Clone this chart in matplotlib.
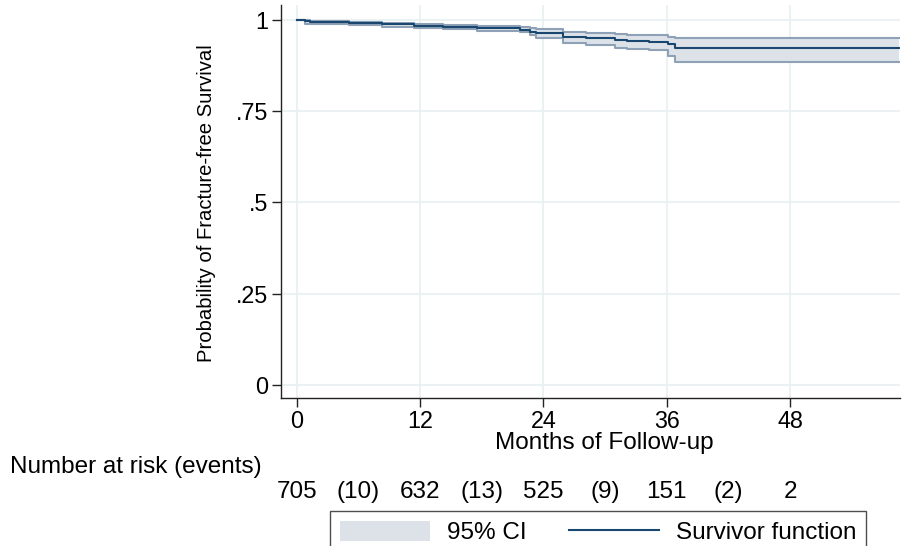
import matplotlib
matplotlib.use("Agg")
import matplotlib.pyplot as plt
import matplotlib.transforms as mtransforms
from matplotlib.patches import Patch
from matplotlib.lines import Line2D
import numpy as np

# Kaplan-Meier step estimates (months, survival, 95% CI bounds)
months = [0, 0.8, 1.3, 5.1, 8.3, 11.4, 14.2, 17.5, 21.7, 22.7, 23.3, 25.9,
          28.2, 31.0, 32.1, 34.3, 36.1, 36.8]
survival = [1.0, 0.996, 0.995, 0.991, 0.988, 0.984, 0.980, 0.977, 0.973,
            0.968, 0.964, 0.953, 0.950, 0.945, 0.942, 0.940, 0.934, 0.923]
ci_upper = [1.0, 0.999, 0.998, 0.995, 0.993, 0.989, 0.986, 0.983, 0.980,
            0.978, 0.976, 0.967, 0.964, 0.962, 0.960, 0.958, 0.953, 0.950]
ci_lower = [1.0, 0.990, 0.988, 0.985, 0.982, 0.978, 0.974, 0.971, 0.966,
            0.958, 0.951, 0.938, 0.932, 0.924, 0.920, 0.918, 0.901, 0.886]
last_followup = 58.6

x_ticks = [0, 12, 24, 36, 48]
y_ticks = [0, 0.25, 0.5, 0.75, 1]
y_tick_labels = ["0", ".25", ".5", ".75", "1"]

risk_positions = [0, 6, 12, 18, 24, 30, 36, 42, 48]
risk_labels = ["705", "(10)", "632", "(13)", "525", "(9)", "151", "(2)", "2"]

NAVY = "#1a476f"
CI_FILL = "#dde2e9"
CI_EDGE = "#8fa1b6"
GRID = "#e8f0f2"
INK = "#222222"

plt.rcParams["font.family"] = ["Liberation Sans", "DejaVu Sans"]
FS = 17.5       # horizontal texts
FS_TICK = 16.8  # tick labels
FS_YLAB = 14.6  # vertical axis title

W, H = 902, 546
fig = plt.figure(figsize=(W / 100, H / 100), dpi=100)
ax = fig.add_axes([281 / W, 1 - 398 / H, (900 - 281) / W, (398 - 5) / H])

t = np.array(months + [last_followup])
s = np.array(survival + [survival[-1]])
lo = np.array(ci_lower + [ci_lower[-1]])
hi = np.array(ci_upper + [ci_upper[-1]])

ax.fill_between(t, lo, hi, step="post", color=CI_FILL, lw=0, zorder=2)
ax.step(t, lo, where="post", color=CI_EDGE, lw=1.5, zorder=3)
ax.step(t, hi, where="post", color=CI_EDGE, lw=1.5, zorder=3)
ax.step(t, s, where="post", color=NAVY, lw=1.5, zorder=4)

ax.set_xlim(-1.52, 58.7)
ax.set_ylim(-0.0356, 1.041)
ax.set_xticks(x_ticks)
ax.set_yticks(y_ticks)
ax.set_yticklabels(y_tick_labels)
ax.grid(True, color=GRID, lw=1.2, zorder=0)
ax.set_axisbelow(True)
for side in ("top", "right"):
    ax.spines[side].set_visible(False)
for side in ("left", "bottom"):
    ax.spines[side].set_color(INK)
    ax.spines[side].set_linewidth(1.0)
ax.tick_params(axis="both", direction="out", length=6.5, width=1.0,
               color=INK, labelsize=FS_TICK)
ax.tick_params(axis="y", pad=3)
ax.tick_params(axis="x", pad=2.5)

ax.set_ylabel("Probability of Fracture-free Survival", fontsize=FS_YLAB,
              va="center")
ax.yaxis.set_label_coords((207 - 281) / 619, (398 - 203.5) / 393)
ax.set_xlabel("Months of Follow-up", fontsize=FS, va="center")
ax.xaxis.set_label_coords((604 - 281) / 619, (398 - 443) / 393)

# Number-at-risk table below the axis
fig.text(10 / W, 1 - 467 / H, "Number at risk (events)", fontsize=FS,
         ha="left", va="center")
row_tf = mtransforms.blended_transform_factory(ax.transData, fig.transFigure)
for pos, lab in zip(risk_positions, risk_labels):
    ax.text(pos, 1 - 492 / H, lab, transform=row_tf, fontsize=FS,
            ha="center", va="center", clip_on=False)

handles = [Patch(facecolor=CI_FILL, edgecolor="none", label="95% CI"),
           Line2D([], [], color=NAVY, lw=1.5, label="Survivor function")]
leg = fig.legend(handles=handles, loc="upper left",
                 bbox_to_anchor=(330 / W, 1 - 511 / H), borderaxespad=0,
                 ncol=2, fontsize=FS, frameon=True, fancybox=False,
                 handlelength=3.7, handleheight=0.9, columnspacing=1.75,
                 borderpad=0.4, handletextpad=0.7)
leg.get_frame().set_edgecolor(INK)
leg.get_frame().set_linewidth(1.0)

fig.savefig("out.png", dpi=100)
